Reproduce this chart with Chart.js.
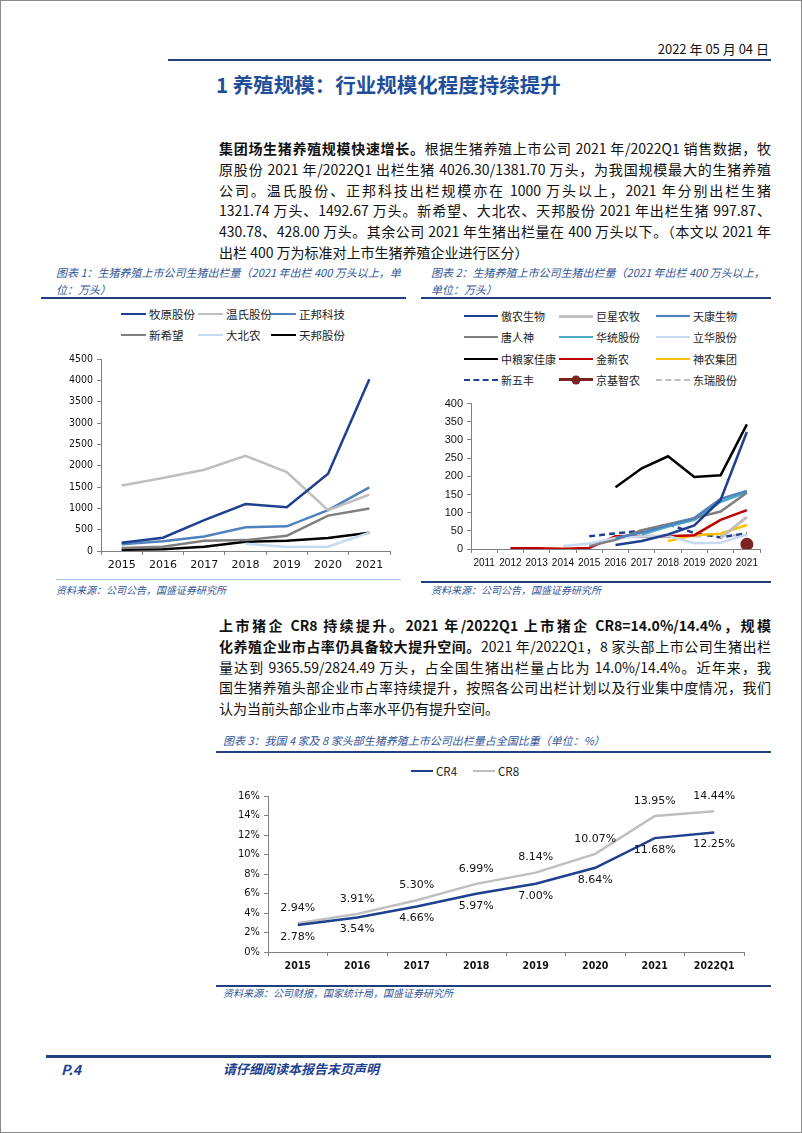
<!DOCTYPE html>
<html>
<head>
<meta charset="utf-8">
<script src="https://cdn.jsdelivr.net/npm/chart.js@4.4.1/dist/chart.umd.min.js"></script>
<style>
  body { margin: 0; background: #fff; font-family: "Noto Sans CJK SC", sans-serif; color: #111; }
  #page { position: relative; width: 802px; height: 1133px; box-sizing: border-box; border: 1px solid #8a8a8a; overflow: hidden; }
  .abs { position: absolute; }
  .date { right: 32px; top: 38px; font-size: 13px; }
  .rule { height: 2px; background: #1f3f7f; }
  .h1 { left: 215px; top: 68px; font-size: 20.5px; font-weight: bold; color: #1f4e9a; }
  .para { left: 218px; width: 552px; font-size: 14px; line-height: 20.8px; }
  .para div { text-align: justify; text-align-last: justify; white-space: nowrap; }
  .para div.last { text-align-last: left; }
  b { font-weight: bold; }
  .cap { font-size: 11px; font-style: italic; color: #2f5597; line-height: 17px; }
  .src { font-size: 10px; font-style: italic; color: #2f5597; }
  .lg { color: #222; }
  .lg .it { position: absolute; display: flex; align-items: center; white-space: nowrap; line-height: 16px; }
  .lg .ln { display: inline-block; position: relative; margin-right: 3px; }
  .lg .dot { position: absolute; width: 9px; height: 9px; border-radius: 50%; left: 50%; top: 50%; transform: translate(-50%, -50%); }
  canvas { position: absolute; }
  .foot { top: 1058px; font-size: 14px; font-weight: bold; font-style: italic; color: #1f3f8f; }
</style>
</head>
<body>
<div id="page">
  <div class="abs date">2022 年 05 月 04 日</div>
  <div class="abs rule" style="left:167px; top:58px; width:603px;"></div>
  <div class="abs h1">1 养殖规模：行业规模化程度持续提升</div>

  <div class="abs para" style="top:137px;">
    <div><b>集团场生猪养殖规模快速增长。</b>根据生猪养殖上市公司 2021 年/2022Q1 销售数据，牧</div>
    <div>原股份 2021 年/2022Q1 出栏生猪 4026.30/1381.70 万头，为我国规模最大的生猪养殖</div>
    <div>公司。温氏股份、正邦科技出栏规模亦在 1000 万头以上，2021 年分别出栏生猪</div>
    <div>1321.74 万头、1492.67 万头。新希望、大北农、天邦股份 2021 年出栏生猪 997.87、</div>
    <div>430.78、428.00 万头。其余公司 2021 年生猪出栏量在 400 万头以下。（本文以 2021 年</div>
    <div class="last">出栏 400 万为标准对上市生猪养殖企业进行区分）</div>
  </div>

  <div class="abs cap" style="left:55px; top:263px; width:350px;">图表 1：生猪养殖上市公司生猪出栏量（2021 年出栏 400 万头以上，单<br>位：万头）</div>
  <div class="abs rule" style="left:40px; top:296px; width:365px; height:1.5px;"></div>
  <div class="abs lg" id="lg1" style="font-size:11.5px;"></div>
  <canvas id="c1" width="365" height="230" style="left:40px; top:345px;"></canvas>
  <div class="abs" style="left:55px; top:578px; width:345px; height:1px; background:#9dc3e6;"></div>
  <div class="abs src" style="left:55px; top:581px;">资料来源：公司公告，国盛证券研究所</div>

  <div class="abs cap" style="left:430px; top:263px; width:340px;">图表 2：生猪养殖上市公司生猪出栏量（2021 年出栏 400 万头以上，<br>单位：万头）</div>
  <div class="abs rule" style="left:420px; top:296px; width:350px; height:1.5px;"></div>
  <div class="abs lg" id="lg2" style="font-size:11px;"></div>
  <canvas id="c2" width="350" height="180" style="left:420px; top:392px;"></canvas>
  <div class="abs rule" style="left:420px; top:580px; width:350px; height:1.5px;"></div>
  <div class="abs src" style="left:430px; top:581px;">资料来源：公司公告，国盛证券研究所</div>

  <div class="abs para" style="top:614px;">
    <div><b>上市猪企 CR8 持续提升。2021 年/2022Q1 上市猪企 CR8=14.0%/14.4%，规模</b></div>
    <div><b>化养殖企业市占率仍具备较大提升空间。</b>2021 年/2022Q1，8 家头部上市公司生猪出栏</div>
    <div>量达到 9365.59/2824.49 万头，占全国生猪出栏量占比为 14.0%/14.4%。近年来，我</div>
    <div>国生猪养殖头部企业市占率持续提升，按照各公司出栏计划以及行业集中度情况，我们</div>
    <div class="last">认为当前头部企业市占率水平仍有提升空间。</div>
  </div>

  <div class="abs cap" style="left:222px; top:731px;">图表 3：我国 4 家及 8 家头部生猪养殖上市公司出栏量占全国比重（单位：%）</div>
  <div class="abs rule" style="left:215px; top:750px; width:555px; height:1.5px;"></div>
  <div class="abs lg" id="lg3" style="font-size:11.5px;"></div>
  <canvas id="c3" width="555" height="196" style="left:215px; top:780px;"></canvas>
  <div class="abs rule" style="left:215px; top:984px; width:555px; height:1.5px;"></div>
  <div class="abs src" style="left:222px; top:984px;">资料来源：公司财报，国家统计局，国盛证券研究所</div>

  <div class="abs rule" style="left:45px; top:1054px; width:725px; height:2.5px;"></div>
  <div class="abs foot" style="left:60px;">P.4</div>
  <div class="abs foot" style="left:222px; font-size:13px;">请仔细阅读本报告末页声明</div>
</div>

<script>
// ---- 图表1 data (万头) ----
const years1 = ['2015', '2016', '2017', '2018', '2019', '2020', '2021'];
const muyuan = [192, 311, 724, 1101, 1025, 1811, 4026];
const wens = [1535, 1713, 1904, 2230, 1852, 955, 1322];
const zhengbang = [157, 226, 342, 554, 578, 956, 1493];
const xinxiwang = [70, 100, 241, 255, 355, 829, 998];
const dabeinong = [null, null, null, 170, 93, 100, 431];
const tianbang = [30, 40, 100, 217, 243, 307, 428];
const yTicks1 = [0, 4500, 500];

// ---- 图表2 data (万头) ----
const years2 = ['2011', '2012', '2013', '2014', '2015', '2016', '2017', '2018', '2019', '2020', '2021'];
const aonong = [null, null, null, null, null, 11, 22, 40, 65, 135, 322];
const juxing = [null, null, null, null, null, null, null, null, null, 30, 88];
const tiankang = [null, null, null, null, null, 30, 45, 65, 85, 138, 160];
const tangrenshen = [null, null, null, null, 8, 25, 52, 68, 85, 103, 155];
const huatong = [null, null, null, null, null, null, 40, 62, 80, 130, 156];
const lihua = [null, null, null, 8, 15, 30, 35, 36, 16, 17, 40];
const zhongliang = [null, null, null, null, null, 170, 222, 255, 198, 203, 343];
const jinxinnong = [null, 2, 2, 1, 3, 35, 36, 35, 38, 80, 107];
const shennong = [null, null, null, null, null, null, null, 22, 38, 42, 66];
const xinwufeng = [null, null, null, null, 35, 43, 50, 68, 44, 32, 43];
const jingji = [null, null, null, null, null, null, null, null, null, null, 13];
const dongrui = [null, null, null, null, null, null, null, 33, 35, 38, 38];
const yTicks2 = [0, 400, 50];

// ---- 图表3 data (%) ----
const years3 = ['2015', '2016', '2017', '2018', '2019', '2020', '2021', '2022Q1'];
const cr4 = [2.78, 3.54, 4.66, 5.97, 7.00, 8.64, 11.68, 12.25];
const cr8 = [2.94, 3.91, 5.30, 6.99, 8.14, 10.07, 13.95, 14.44];
const yTicks3 = [0, 16, 2];

const NAVY = '#1f3f8f';
const axisColor = '#7f7f7f';

function line(label, data, color, width, extra) {
    return Object.assign({
        label: label, data: data, borderColor: color, backgroundColor: color,
        borderWidth: width, pointRadius: 0, tension: 0, fill: false
    }, extra || {});
}

function axes(yRange, yWidth, xHeight, yFont, xFont, yCb) {
    return {
        x: {
            offset: true,
            grid: { display: true, offset: true, drawOnChartArea: false, tickLength: 4, color: axisColor },
            border: { display: true, color: axisColor },
            ticks: { color: '#111', font: xFont, autoSkip: false, maxRotation: 0, padding: 4 },
            afterFit: (s) => { s.height = xHeight; }
        },
        y: {
            min: yRange[0], max: yRange[1],
            grid: { display: true, drawOnChartArea: false, tickLength: 4, color: axisColor },
            border: { display: true, color: axisColor },
            ticks: { stepSize: yRange[2], color: '#111', font: yFont, padding: 4, callback: yCb || ((v) => v) },
            afterFit: (s) => { s.width = yWidth; }
        }
    };
}

// HTML legend built from the dataset styles
function buildLegend(el, items, x0, y0, colW, rowH, lineW) {
    items.forEach((d, i) => {
        const col = i % colW.length;
        const it = document.createElement('div');
        it.className = 'it';
        it.style.left = (x0 + colW.slice(0, col).reduce((a, b) => a + b, 0)) + 'px';
        it.style.top = (y0 + Math.floor(i / colW.length) * rowH) + 'px';
        const ln = document.createElement('span');
        ln.className = 'ln';
        ln.style.width = lineW + 'px';
        ln.style.borderTop = d.borderWidth + 'px ' + (d.borderDash ? 'dashed' : 'solid') + ' ' + d.borderColor;
        if (d.pointRadius > 0) {
            const dot = document.createElement('span');
            dot.className = 'dot';
            dot.style.background = d.borderColor;
            dot.style.marginTop = (-d.borderWidth / 2) + 'px';
            ln.appendChild(dot);
        }
        it.appendChild(ln);
        it.appendChild(document.createTextNode(d.label));
        el.appendChild(it);
    });
}

// ---- chart 1 ----
const ds1 = [
    line('牧原股份', muyuan, NAVY, 2.5),
    line('温氏股份', wens, '#bfbfbf', 2.5),
    line('正邦科技', zhengbang, '#4f81bd', 2.5),
    line('新希望', xinxiwang, '#7f7f7f', 2.5),
    line('大北农', dabeinong, '#c6d9f1', 2.5),
    line('天邦股份', tianbang, '#000000', 2.5)
];
new Chart(document.getElementById('c1'), {
    type: 'line',
    data: { labels: years1, datasets: ds1 },
    options: {
        responsive: false, animation: false, devicePixelRatio: 1,
        layout: { padding: { top: 13, right: 16, left: 0, bottom: 0 } },
        plugins: { legend: { display: false }, tooltip: { enabled: false } },
        scales: axes(yTicks1, 60, 25,
            { family: 'DejaVu Sans Condensed, DejaVu Sans', size: 10.5 },
            { family: 'DejaVu Sans', size: 11 })
    }
});
buildLegend(document.getElementById('lg1'), ds1, 120, 305, [77, 73, 80], 21, 25);

// ---- chart 2 ----
const ds2 = [
    line('傲农生物', aonong, NAVY, 2.5),
    line('巨星农牧', juxing, '#bfbfbf', 3),
    line('天康生物', tiankang, '#4f81bd', 2.5),
    line('唐人神', tangrenshen, '#7f7f7f', 2.5),
    line('华统股份', huatong, '#4bacc6', 2.5),
    line('立华股份', lihua, '#c6d9f1', 2.5),
    line('中粮家佳康', zhongliang, '#000000', 2.5),
    line('金新农', jinxinnong, '#c00000', 2.5),
    line('神农集团', shennong, '#ffc000', 2.5),
    line('新五丰', xinwufeng, NAVY, 2.5, { borderDash: [6, 4] }),
    line('京基智农', jingji, '#7b2323', 3, { pointRadius: 5 }),
    line('东瑞股份', dongrui, '#bfbfbf', 2.5, { borderDash: [7, 6] })
];
new Chart(document.getElementById('c2'), {
    type: 'line',
    data: { labels: years2, datasets: ds2 },
    options: {
        responsive: false, animation: false, devicePixelRatio: 1,
        layout: { padding: { top: 10, right: 11, left: 0, bottom: 0 } },
        plugins: { legend: { display: false }, tooltip: { enabled: false } },
        scales: axes(yTicks2, 50, 24,
            { family: 'Liberation Sans', size: 11 },
            { family: 'Liberation Sans', size: 10 })
    }
});
buildLegend(document.getElementById('lg2'), ds2, 463, 307, [95, 97, 90], 21.3, 34);

// ---- chart 3 ----
const valueLabels = {
    id: 'valueLabels',
    afterDatasetsDraw(chart) {
        const ctx = chart.ctx;
        ctx.save();
        ctx.font = '11px "DejaVu Sans"';
        ctx.fillStyle = '#111';
        ctx.textAlign = 'center';
        ctx.textBaseline = 'middle';
        chart.data.datasets.forEach((ds, i) => {
            const dy = i === 0 ? 12 : -15;
            chart.getDatasetMeta(i).data.forEach((pt, j) => {
                ctx.fillText(ds.data[j].toFixed(2) + '%', pt.x, pt.y + dy);
            });
        });
        ctx.restore();
    }
};
const ds3 = [
    line('CR4', cr4, NAVY, 2.5),
    line('CR8', cr8, '#bfbfbf', 2.5)
];
new Chart(document.getElementById('c3'), {
    type: 'line',
    data: { labels: years3, datasets: ds3 },
    options: {
        responsive: false, animation: false, devicePixelRatio: 1,
        layout: { padding: { top: 15, right: 27, left: 0, bottom: 0 } },
        plugins: { legend: { display: false }, tooltip: { enabled: false } },
        scales: axes(yTicks3, 52, 25,
            { family: 'DejaVu Sans Condensed, DejaVu Sans', size: 11 },
            { family: 'DejaVu Sans Condensed, DejaVu Sans', size: 10.5, weight: 'bold' },
            (v) => v + '%')
    },
    plugins: [valueLabels]
});
buildLegend(document.getElementById('lg3'), ds3, 410, 762, [62, 60], 20, 22);
</script>
</body>
</html>
